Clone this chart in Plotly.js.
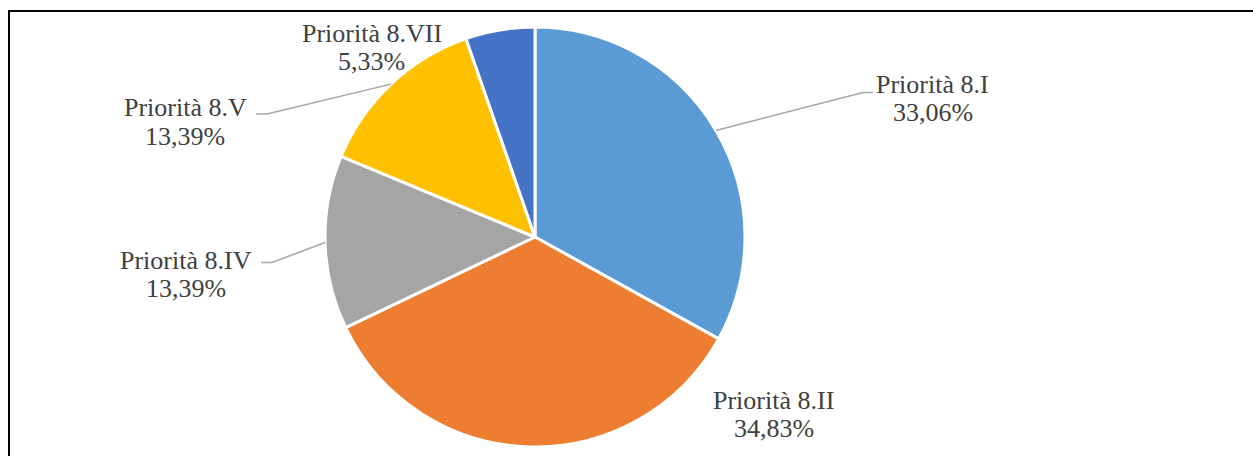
<!DOCTYPE html>
<html>
<head>
<meta charset="utf-8">
<script src="https://cdn.plot.ly/plotly-3.0.1.min.js"></script>
<style>html,body{margin:0;padding:0;background:#fff;}#chart{width:1253px;height:456px;}</style>
</head>
<body>
<div id="chart"></div>
<script>
// ---- data ----
var categories = ['Priorità 8.I', 'Priorità 8.II', 'Priorità 8.IV', 'Priorità 8.V', 'Priorità 8.VII'];
var values = [33.06, 34.83, 13.39, 13.39, 5.33];
var colors = ['#5B9BD5', '#ED7D31', '#A5A5A5', '#FFC000', '#4472C4'];

// ---- layout config (pixel positions) ----
var W = 1253, H = 456;
var pieCx = 535, pieCy = 237, pieR = 210;
// label centre x, name baseline y, leader elbow point and end (null = no leader)
var labelPos = [
  {x: 933, y: 92, elbow: [863, 92.5], end: [873, 92.5]},
  {x: 773.5, y: 408, elbow: null, end: null},
  {x: 186, y: 268, elbow: [272, 262.5], end: [261, 262.5]},
  {x: 185, y: 116, elbow: [267, 114], end: [256, 114]},
  {x: 371.5, y: 41, elbow: null, end: null}
];
var lineGap = 28.5;
var textFont = {family: 'Liberation Serif, Times New Roman, serif', size: 26, color: '#404040'};

function px(x) { return x / W; }
function py(y) { return 1 - y / H; }

var total = values.reduce(function (a, b) { return a + b; }, 0);
var annotations = [];
var shapes = [];
var cum = 0;
values.forEach(function (v, i) {
  var mid = (cum + v / 2) / total * 2 * Math.PI;
  cum += v;
  var lp = labelPos[i];
  annotations.push({xref: 'paper', yref: 'paper', x: px(lp.x), y: py(lp.y - 8),
    xanchor: 'center', yanchor: 'middle', showarrow: false, text: categories[i], font: textFont});
  annotations.push({xref: 'paper', yref: 'paper', x: px(lp.x), y: py(lp.y + lineGap - 8),
    xanchor: 'center', yanchor: 'middle', showarrow: false,
    text: v.toFixed(2).replace('.', ',') + '%', font: textFont});
  if (lp.elbow) {
    var ex = pieCx + pieR * Math.sin(mid), ey = pieCy - pieR * Math.cos(mid);
    shapes.push({type: 'path', xref: 'paper', yref: 'paper',
      path: 'M ' + px(ex) + ',' + py(ey) + ' L ' + px(lp.elbow[0]) + ',' + py(lp.elbow[1]) +
            ' L ' + px(lp.end[0]) + ',' + py(lp.end[1]),
      line: {color: '#A6A6A6', width: 1.5}});
  }
});
// frame (left and top edges)
shapes.push({type: 'line', xref: 'paper', yref: 'paper', x0: px(9), x1: px(9), y0: py(11), y1: 0,
  line: {color: '#000', width: 2}});
shapes.push({type: 'line', xref: 'paper', yref: 'paper', x0: px(8), x1: 1, y0: py(11), y1: py(11),
  line: {color: '#000', width: 2}});

var trace = {
  type: 'pie',
  labels: categories,
  values: values,
  sort: false,
  direction: 'clockwise',
  rotation: 0,
  textinfo: 'none',
  hoverinfo: 'label+percent',
  marker: {colors: colors, line: {color: '#FFFFFF', width: 3}},
  domain: {x: [px(pieCx - pieR), px(pieCx + pieR)], y: [py(pieCy + pieR), py(pieCy - pieR)]}
};

var layout = {
  width: W, height: H,
  margin: {l: 0, r: 0, t: 0, b: 0},
  showlegend: false,
  paper_bgcolor: '#FFFFFF',
  annotations: annotations,
  shapes: shapes
};

Plotly.newPlot('chart', [trace], layout, {displayModeBar: false, staticPlot: true});
</script>
</body>
</html>
